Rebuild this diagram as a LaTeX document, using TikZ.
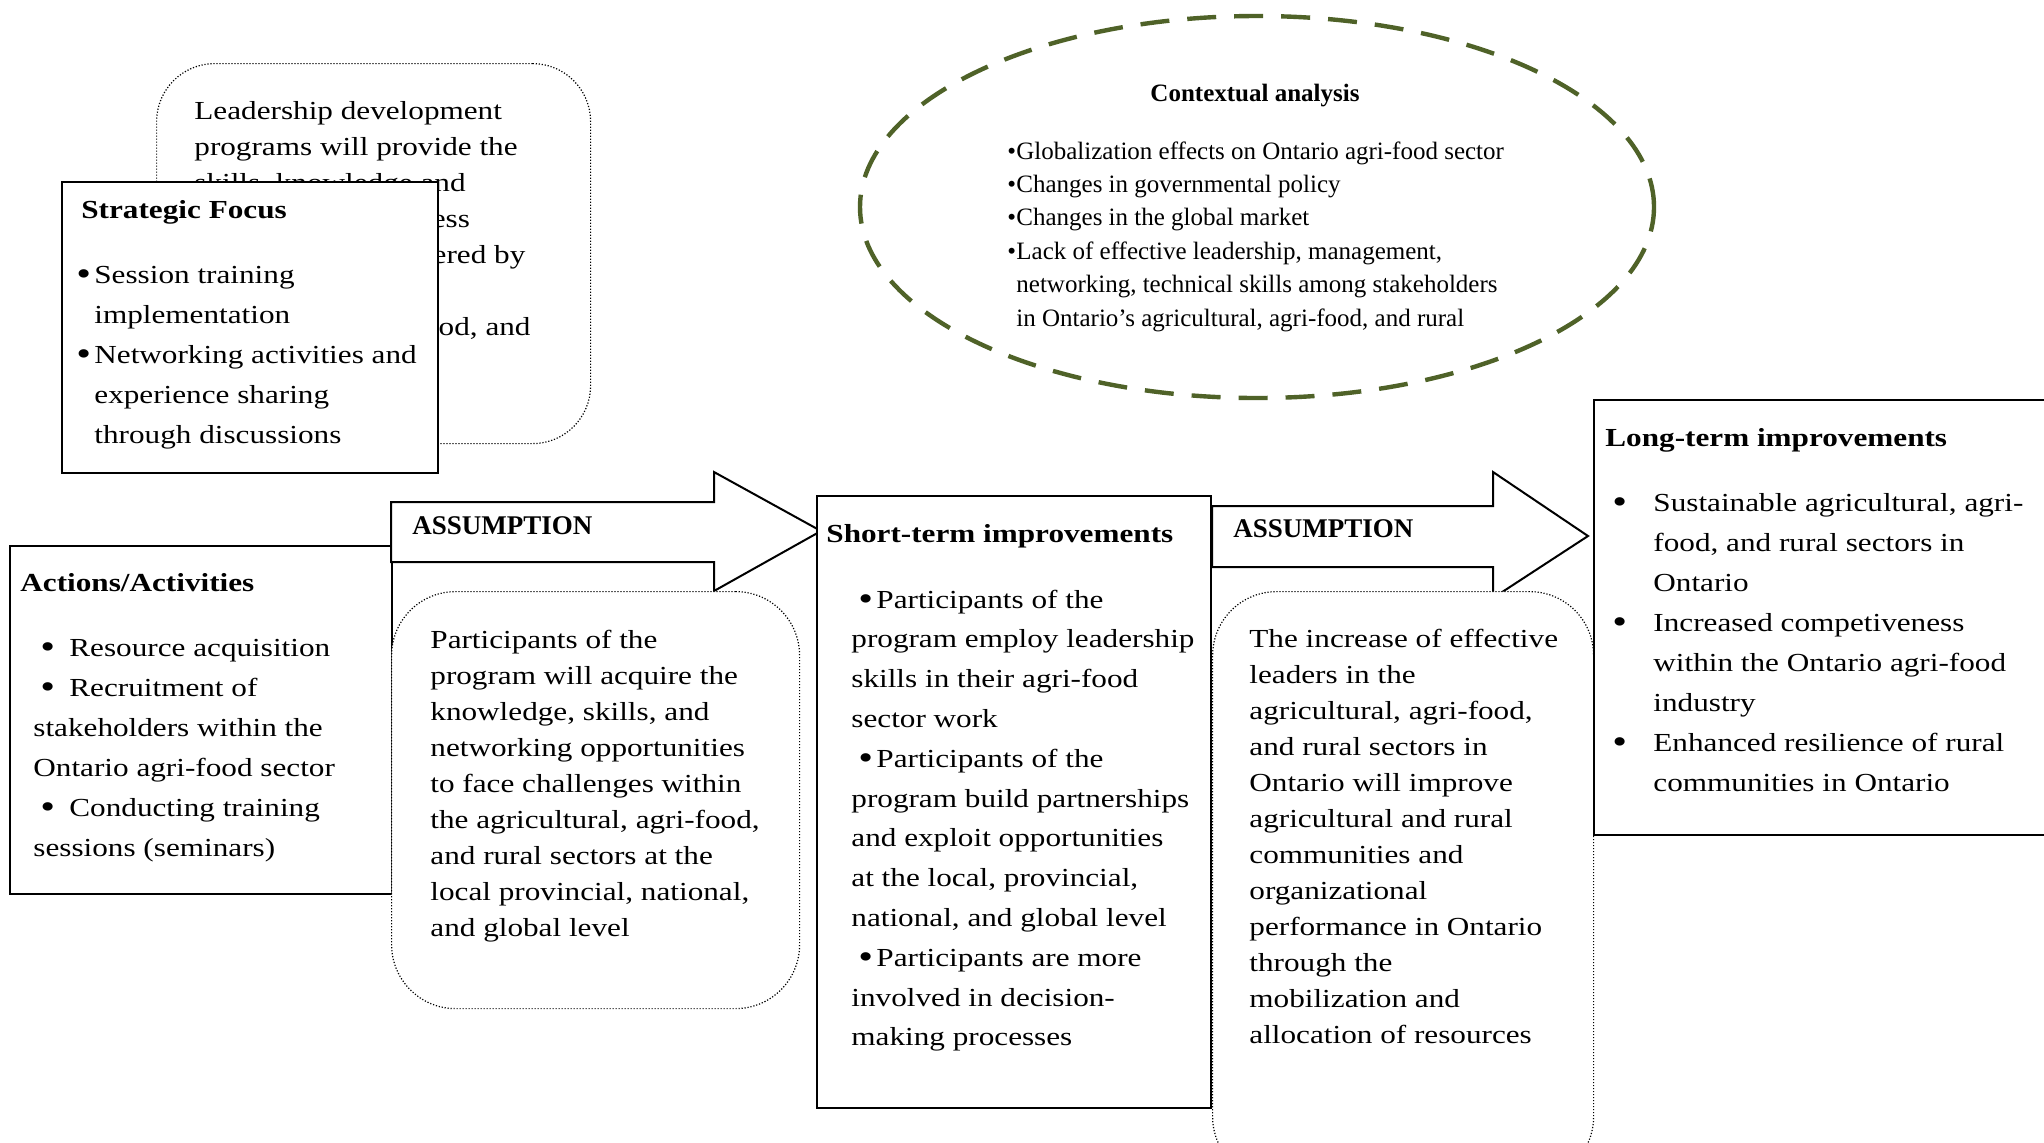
\documentclass[tikz,border=0pt]{standalone}
\usepackage{fontspec}
\setmainfont{Liberation Serif}[FakeStretch=1.2]
\newfontfamily\ctxfont{Liberation Serif}
\usetikzlibrary{shapes.geometric}

% a block of explicit lines: #1 font size, #2 line distance, #3 lines
\newcommand\linesblock[3]{\parbox[t]{600pt}{\fontsize{#1}{#2}\selectfont\raggedright #3}}
% a somewhat heavier bullet for the list boxes
\newcommand\bigdot{\raisebox{-0.1em}{\scalebox{1.35}{\textbullet}}}
% bullet at offset #1, text starting #2 after the bullet
\newcommand\bul[2]{\hspace*{#1}\makebox[#2][l]{\bigdot}}
\newcommand\smallbul[2]{\hspace*{#1}\makebox[#2][l]{\textbullet}}
\newcommand\ind[1]{\hspace*{#1}}

\definecolor{olivedash}{HTML}{4F6228}

\begin{document}
\begin{tikzpicture}[x=0.5pt,y=-0.5pt,
  solidbox/.style={draw, line width=1pt, fill=white, rectangle, anchor=north west, inner sep=0pt},
  dotbox/.style={draw, line width=0.6pt, dash pattern=on 0.6pt off 0.9pt, fill=white,
    rectangle, rounded corners=30pt, anchor=north west, inner sep=0pt},
  txt/.style={anchor=base west, inner sep=0pt},
  headfont/.style={font=\fontsize{13}{20}\selectfont\bfseries},
  assfont/.style={font=\ctxfont\fontsize{13.5}{20}\selectfont\bfseries},
  blockarrow/.style={draw, line width=1pt, fill=white, line join=miter}]
\useasboundingbox (0,0) rectangle (2044,1142);
\clip (0,0) rectangle (2044,1142);

% leadership note behind the strategic focus box
\node[dotbox, minimum width=217pt, minimum height=190pt, rounded corners=29pt] (leadbox) at (156,63) {};
\node[txt] (leadtext) at (194,119) {\linesblock{13}{18pt}{%
Leadership development\\
programs will provide the\\
skills, knowledge and\\
capabilities to address\\
challenges encountered by\\
actors in the\\
agricultural, agri-food, and}};

% strategic focus
\node[solidbox, minimum width=188pt, minimum height=145.5pt] (stratbox) at (61,181) {};
\node[txt, headfont] (strathead) at (81,218) {Strategic Focus};
\node[txt] (strattext) at (76,283) {\linesblock{13}{20pt}{%
\bul{0pt}{9pt}Session training\\
\ind{9pt}implementation\\
\bul{0pt}{9pt}Networking activities and\\
\ind{9pt}experience sharing\\
\ind{9pt}through discussions}};

% contextual analysis
\node[draw=olivedash, line width=2.2pt, dash pattern=on 14.5pt off 9pt, ellipse,
  minimum width=397pt, minimum height=191pt, inner sep=0pt] (ctx) at (1257,207) {};
\node[anchor=base, inner sep=0pt, font=\ctxfont\fontsize{12.5}{16}\selectfont\bfseries] (ctxhead) at (1255,101) {Contextual analysis};
\node[txt] (ctxtext) at (1007,159) {\ctxfont\linesblock{12.5}{16.7pt}{%
\smallbul{0pt}{4.5pt}Globalization effects on Ontario agri-food sector\\
\smallbul{0pt}{4.5pt}Changes in governmental policy\\
\smallbul{0pt}{4.5pt}Changes in the global market\\
\smallbul{0pt}{4.5pt}Lack of effective leadership, management,\\
\ind{4.5pt}networking, technical skills among stakeholders\\
\ind{4.5pt}in Ontario’s agricultural, agri-food, and rural}};

% actions / activities
\node[solidbox, minimum width=191pt, minimum height=174pt] (actbox) at (9,545) {};
\node[txt, headfont] (acthead) at (20,591) {Actions/Activities};
\node[txt] (acttext) at (33,656) {\linesblock{13}{20pt}{%
\bul{3.5pt}{14.5pt}Resource acquisition\\
\bul{3.5pt}{14.5pt}Recruitment of\\
stakeholders within the\\
Ontario agri-food sector\\
\bul{3.5pt}{14.5pt}Conducting training\\
sessions (seminars)}};

% first assumption arrow
\coordinate (a1tip) at (821,531);
\draw[blockarrow] (391,502) -- (714,502) -- (714,472) -- (a1tip) -- (714,591) -- (714,562) -- (391,562) -- cycle;
\node[txt, assfont] (ass1) at (412,534) {ASSUMPTION};

\node[dotbox, minimum width=204pt, minimum height=208.5pt, rounded corners=32pt] (assbox1) at (391,591) {};
\node[txt] (asstext1) at (430,648) {\linesblock{13}{18pt}{%
Participants of the\\
program will acquire the\\
knowledge, skills, and\\
networking opportunities\\
to face challenges within\\
the agricultural, agri-food,\\
and rural sectors at the\\
local provincial, national,\\
and global level}};

% short-term improvements
\node[solidbox, minimum width=197pt, minimum height=306pt] (shortbox) at (816,495) {};
\node[txt, headfont] (shorthead) at (826,542) {Short-term improvements};
\node[txt] (shorttext) at (851,608) {\linesblock{13}{19.9pt}{%
\bul{3.5pt}{9pt}Participants of the\\
program employ leadership\\
skills in their agri-food\\
sector work\\
\bul{3.5pt}{9pt}Participants of the\\
program build partnerships\\
and exploit opportunities\\
at the local, provincial,\\
national, and global level\\
\bul{3.5pt}{9pt}Participants are more\\
involved in decision-\\
making processes}};

% second assumption arrow
\coordinate (a2tip) at (1588,536);
\draw[blockarrow] (1212,506) -- (1493,506) -- (1493,472) -- (a2tip) -- (1493,598) -- (1493,567) -- (1212,567) -- cycle;
\node[txt, assfont] (ass2) at (1233,537) {ASSUMPTION};

\node[dotbox, minimum width=190.5pt, minimum height=294.5pt, rounded corners=32pt] (assbox2) at (1212,591) {};
\node[txt] (asstext2) at (1249,647) {\linesblock{13}{18pt}{%
The increase of effective\\
leaders in the\\
agricultural, agri-food,\\
and rural sectors in\\
Ontario will improve\\
agricultural and rural\\
communities and\\
organizational\\
performance in Ontario\\
through the\\
mobilization and\\
allocation of resources}};

% long-term improvements
\node[solidbox, minimum width=233.5pt, minimum height=217.5pt] (longbox) at (1593,399) {};
\node[txt, headfont] (longhead) at (1605,446) {Long-term improvements};
\node[txt] (longtext) at (1612,511) {\linesblock{13}{20pt}{%
\bul{0pt}{20.5pt}Sustainable agricultural, agri-\\
\ind{20.5pt}food, and rural sectors in\\
\ind{20.5pt}Ontario\\
\bul{0pt}{20.5pt}Increased competiveness\\
\ind{20.5pt}within the Ontario agri-food\\
\ind{20.5pt}industry\\
\bul{0pt}{20.5pt}Enhanced resilience of rural\\
\ind{20.5pt}communities in Ontario}};
\end{tikzpicture}
\end{document}
